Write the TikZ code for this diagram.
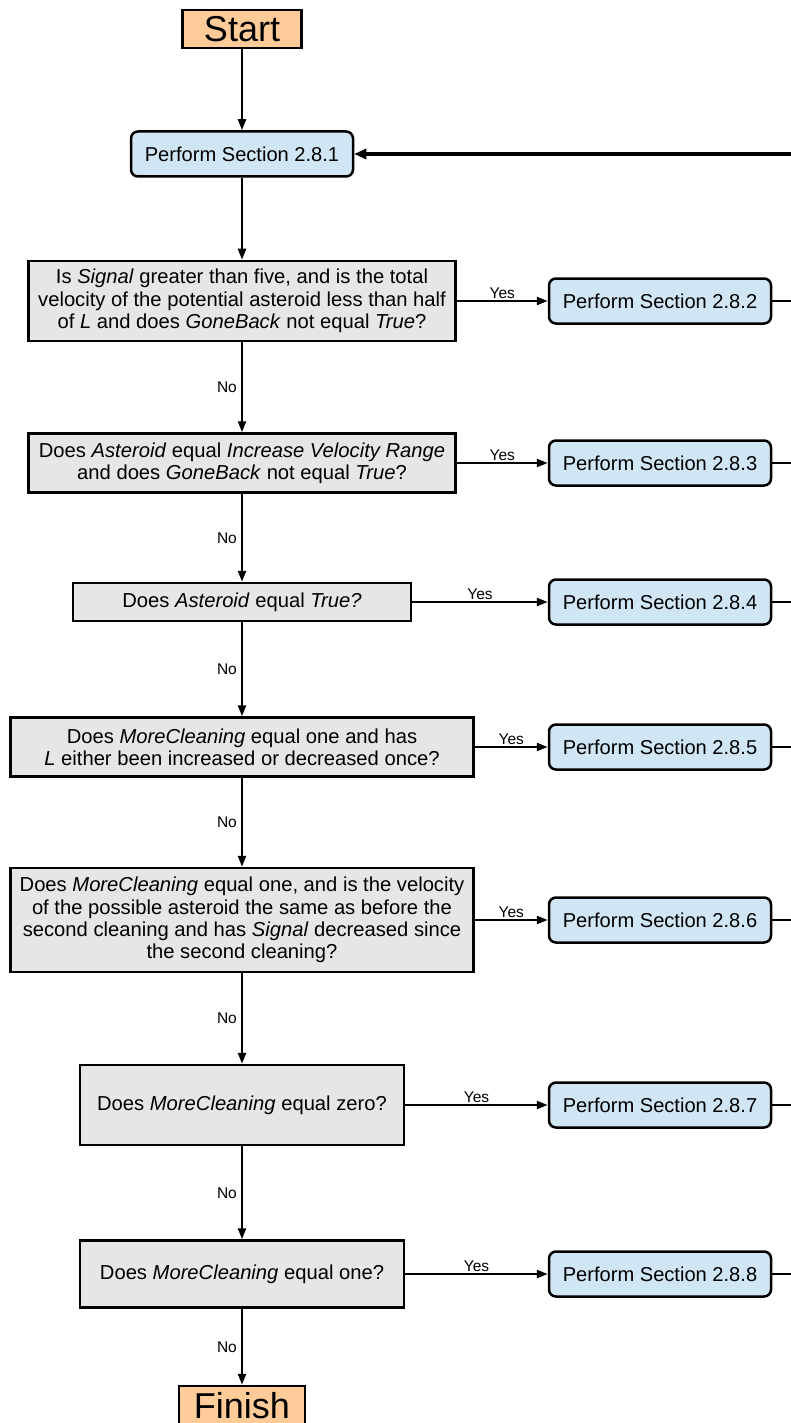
\documentclass[tikz,border=0pt]{standalone}
\usepackage{fontspec}
\setmainfont{Liberation Sans}
\usetikzlibrary{arrows.meta}
\definecolor{termfill}{HTML}{FFCC99}
\definecolor{procfill}{HTML}{D1E6F4}
\definecolor{qfill}{HTML}{E6E6E6}
\tikzset{
  qbox/.style={draw, line width=2.5pt, fill=qfill, align=center, inner sep=0pt,
    font=\fontsize{20.2}{22.4}\selectfont},
  pbox/.style={draw, line width=2.5pt, fill=procfill, rounded corners=7pt, inner sep=0pt,
    minimum width=222pt, minimum height=45pt, font=\fontsize{20.1}{22}\selectfont},
  term/.style={draw, line width=2.5pt, fill=termfill, inner sep=0pt,
    font=\fontsize{36}{36}\selectfont},
  arr/.style={-{Triangle[length=11pt,width=8pt]}, line width=2.3pt},
  fbarr/.style={-{Triangle[length=12pt,width=10pt]}, line width=3.5pt},
  exitline/.style={line width=2pt},
  lbl/.style={font=\fontsize{15.5}{17}\selectfont, inner sep=1pt},
}
\begin{document}
\begin{tikzpicture}[x=1pt,y=-1pt]
\clip (0,0) rectangle (791,1423);
\fill[white] (0,0) rectangle (791,1423);

\node[term, minimum width=119pt, minimum height=38pt] (start) at (242,29) {Start};
\node[pbox] (p1) at (242,154) {Perform Section 2.8.1};

\node[qbox, minimum width=427pt, minimum height=80pt] (q1) at (242,301)
  {Is \textit{Signal} greater than five, and is the total\\
   velocity of the potential asteroid less than half\\
   of \textit{L} and does \textit{GoneBack} not equal \textit{True}?};
\node[qbox, minimum width=427pt, minimum height=59pt] (q2) at (242,463)
  {Does \textit{Asteroid} equal \textit{Increase Velocity Range}\\
   and does \textit{GoneBack} not equal \textit{True}?};
\node[qbox, minimum width=338pt, minimum height=38pt] (q3) at (242,602)
  {Does \textit{Asteroid} equal \textit{True?}};
\node[qbox, minimum width=463pt, minimum height=59pt] (q4) at (242,747)
  {Does \textit{MoreCleaning} equal one and has\\
   \textit{L} either been increased or decreased once?};
\node[qbox, minimum width=463pt, minimum height=104pt] (q5) at (242,920)
  {Does \textit{MoreCleaning} equal one, and is the velocity\\
   of the possible asteroid the same as before the\\
   second cleaning and has \textit{Signal} decreased since\\
   the second cleaning?};
\node[qbox, minimum width=324pt, minimum height=80pt] (q6) at (242,1105)
  {Does \textit{MoreCleaning} equal zero?};
\node[qbox, minimum width=324pt, minimum height=67pt] (q7) at (242,1274)
  {Does \textit{MoreCleaning} equal one?};
\node[term, minimum width=126pt, minimum height=40pt] (finish) at (242,1406) {Finish};

\node[pbox] (p2) at (660,301) {Perform Section 2.8.2};
\node[pbox] (p3) at (660,463) {Perform Section 2.8.3};
\node[pbox] (p4) at (660,602) {Perform Section 2.8.4};
\node[pbox] (p5) at (660,747) {Perform Section 2.8.5};
\node[pbox] (p6) at (660,920) {Perform Section 2.8.6};
\node[pbox] (p7) at (660,1105) {Perform Section 2.8.7};
\node[pbox] (p8) at (660,1274) {Perform Section 2.8.8};

% vertical flow
\draw[arr] (start) -- (p1);
\draw[arr] (p1) -- (q1);
\draw[arr] (q1) -- node[lbl, left=3pt] {No} (q2);
\draw[arr] (q2) -- node[lbl, left=3pt] {No} (q3);
\draw[arr] (q3) -- node[lbl, left=3pt] {No} (q4);
\draw[arr] (q4) -- node[lbl, left=3pt] {No} (q5);
\draw[arr] (q5) -- node[lbl, left=3pt] {No} (q6);
\draw[arr] (q6) -- node[lbl, left=3pt] {No} (q7);
\draw[arr] (q7) -- node[lbl, left=3pt] {No} (finish);

% yes branches
\draw[arr] (q1) -- node[lbl, above] {Yes} (p2);
\draw[arr] (q2) -- node[lbl, above] {Yes} (p3);
\draw[arr] (q3) -- node[lbl, above] {Yes} (p4);
\draw[arr] (q4) -- node[lbl, above] {Yes} (p5);
\draw[arr] (q5) -- node[lbl, above] {Yes} (p6);
\draw[arr] (q6) -- node[lbl, above] {Yes} (p7);
\draw[arr] (q7) -- node[lbl, above] {Yes} (p8);

% exits to the right edge
\coordinate (e2) at (800,301);
\coordinate (e3) at (800,463);
\coordinate (e4) at (800,602);
\coordinate (e5) at (800,747);
\coordinate (e6) at (800,920);
\coordinate (e7) at (800,1105);
\coordinate (e8) at (800,1274);
\coordinate (fb) at (800,154);
\draw[exitline] (p2) -- (e2);
\draw[exitline] (p3) -- (e3);
\draw[exitline] (p4) -- (e4);
\draw[exitline] (p5) -- (e5);
\draw[exitline] (p6) -- (e6);
\draw[exitline] (p7) -- (e7);
\draw[exitline] (p8) -- (e8);
\draw[fbarr] (fb) -- (p1);
\end{tikzpicture}
\end{document}
